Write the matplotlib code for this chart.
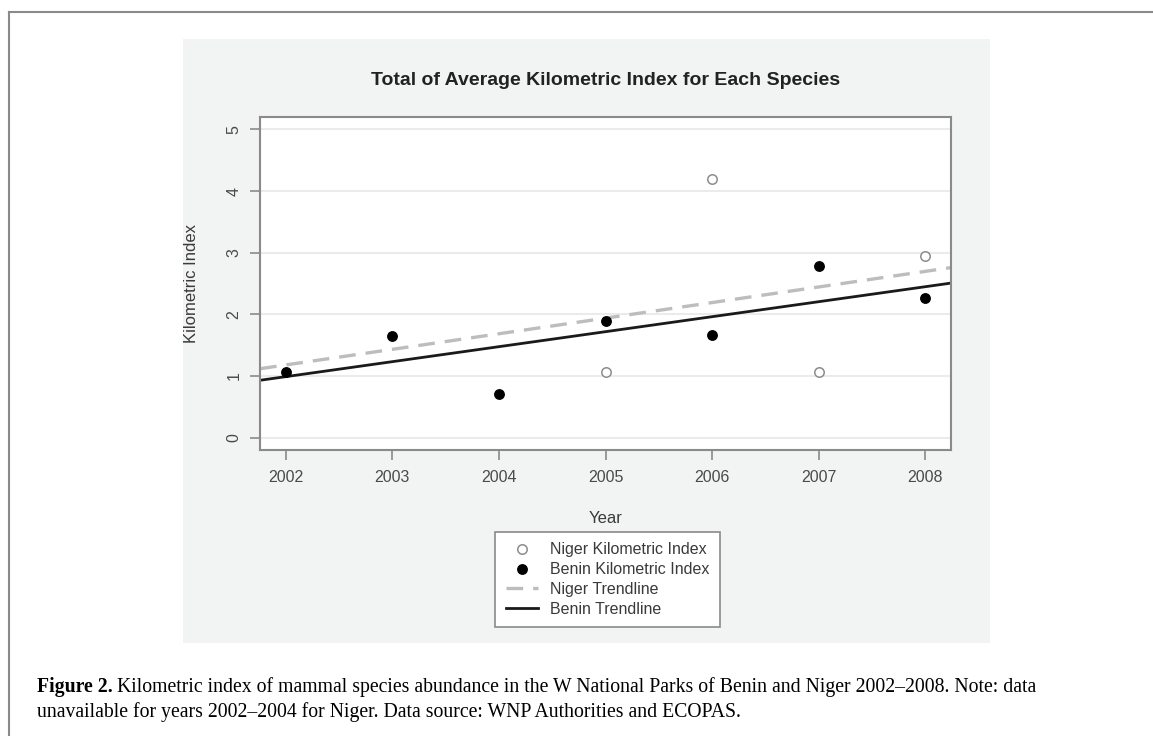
import matplotlib
matplotlib.use("Agg")
import matplotlib.pyplot as plt
from matplotlib.patches import Rectangle
from matplotlib.lines import Line2D
import numpy as np

# data
years = [2002, 2003, 2004, 2005, 2006, 2007, 2008]
benin_ki = [1.07, 1.65, 0.71, 1.89, 1.66, 2.78, 2.27]
niger_years = [2005, 2006, 2007, 2008]
niger_ki = [1.06, 4.20, 1.06, 2.95]
y_ticks = [0, 1, 2, 3, 4, 5]
legend_labels = ["Niger Kilometric Index", "Benin Kilometric Index",
                 "Niger Trendline", "Benin Trendline"]

plt.rcParams['font.family'] = ['Liberation Sans', 'DejaVu Sans']

W, H = 1153, 736
fig = plt.figure(figsize=(W / 100, H / 100), dpi=100)
fig.patch.set_facecolor('white')

# page frame (left and top rule)
fig.add_artist(Line2D([9 / W, 9 / W], [0, 1 - 12 / H], transform=fig.transFigure,
                      color='#8a8a8a', lw=1.5))
fig.add_artist(Line2D([9 / W, 1], [1 - 12 / H, 1 - 12 / H], transform=fig.transFigure,
                      color='#8a8a8a', lw=1.5))

# grey panel behind the R plot
fig.add_artist(Rectangle((183 / W, 1 - 643 / H), (990 - 183) / W, (643 - 39) / H,
                         transform=fig.transFigure, facecolor='#f2f3f3',
                         edgecolor='none', zorder=0))

ax = fig.add_axes([260 / W, 1 - 450 / H, (951 - 260) / W, (450 - 117) / H])
ax.set_facecolor('white')
ax.set_zorder(2)

for yv in y_ticks:
    ax.axhline(yv, color='#ebebeb', lw=1.5, zorder=0)

ax.plot(niger_years, niger_ki, 'o', mfc='white', mec='#8c8c8c', mew=1.1, ms=6.8,
        zorder=3, label=legend_labels[0])
ax.plot(years, benin_ki, 'o', mfc='black', mec='black', ms=6.8, zorder=3,
        label=legend_labels[1])

xmin, xmax = 2002 - 0.24, 2008 + 0.24
xx = np.array([xmin, xmax])
pn = np.polyfit(niger_years, niger_ki, 1)
pb = np.polyfit(years, benin_ki, 1)
ax.plot(xx, np.polyval(pn, xx), '--', color='#bdbdbd', lw=2.4, dashes=(5, 3),
        zorder=2, label=legend_labels[2])
ax.plot(xx, np.polyval(pb, xx), '-', color='#1a1a1a', lw=2.0, zorder=2,
        label=legend_labels[3])

ax.set_xlim(xmin, xmax)
ax.set_ylim(-0.2, 5.2)
ax.set_xticks(years)
ax.set_yticks(y_ticks)
ax.tick_params(axis='both', direction='out', length=7.5, width=1.2,
               color='#8a8a8a', labelcolor='#4a4a4a', labelsize=11.5)
ax.tick_params(axis='x', pad=7)
ax.tick_params(axis='y', pad=6)
for lab in ax.get_yticklabels():
    lab.set_rotation(90)
    lab.set_va('center')
for sp in ax.spines.values():
    sp.set_color('#8a8a8a')
    sp.set_linewidth(1.5)

ax.set_title('Total of Average Kilometric Index for Each Species',
             fontsize=14, fontweight='bold', color='#222222', pad=23)
ax.set_xlabel('Year', fontsize=12, color='#3a3a3a')
ax.xaxis.set_label_coords(0.5, (450 - 511) / 333)
ax.set_ylabel('Kilometric Index', fontsize=12, color='#3a3a3a')
ax.yaxis.set_label_coords((199 - 260) / 691, 0.5)

leg = ax.legend(loc='upper center', bbox_to_anchor=(607.5 / W, 1 - 532 / H),
                bbox_transform=fig.transFigure, fontsize=11.5, frameon=True,
                fancybox=False, edgecolor='#8a8a8a', framealpha=1,
                handlelength=2.0, labelspacing=0.3, borderpad=0.65,
                handletextpad=0.75, borderaxespad=0)
leg.get_frame().set_linewidth(1.2)
for t in leg.get_texts():
    t.set_color('#3a3a3a')

# caption: bold lead-in followed by the plain text
cap_font = ['Liberation Serif', 'DejaVu Serif']
cap_size = 14.2
lead = fig.text(37 / W, 1 - 687 / H, 'Figure 2.', fontsize=cap_size, fontweight='bold',
                family=cap_font, va='center', ha='left')
renderer = fig.canvas.get_renderer()
bb = lead.get_window_extent(renderer)
fig.text((bb.x1 + 4) / W, 1 - 687 / H,
         'Kilometric index of mammal species abundance in the W National Parks of Benin '
         'and Niger 2002\u20132008. Note: data',
         fontsize=cap_size, family=cap_font, va='center', ha='left')
fig.text(37 / W, 1 - 712 / H,
         'unavailable for years 2002\u20132004 for Niger. Data source: WNP Authorities and ECOPAS.',
         fontsize=cap_size, family=cap_font, va='center', ha='left')

fig.savefig('out.png', dpi=100)
